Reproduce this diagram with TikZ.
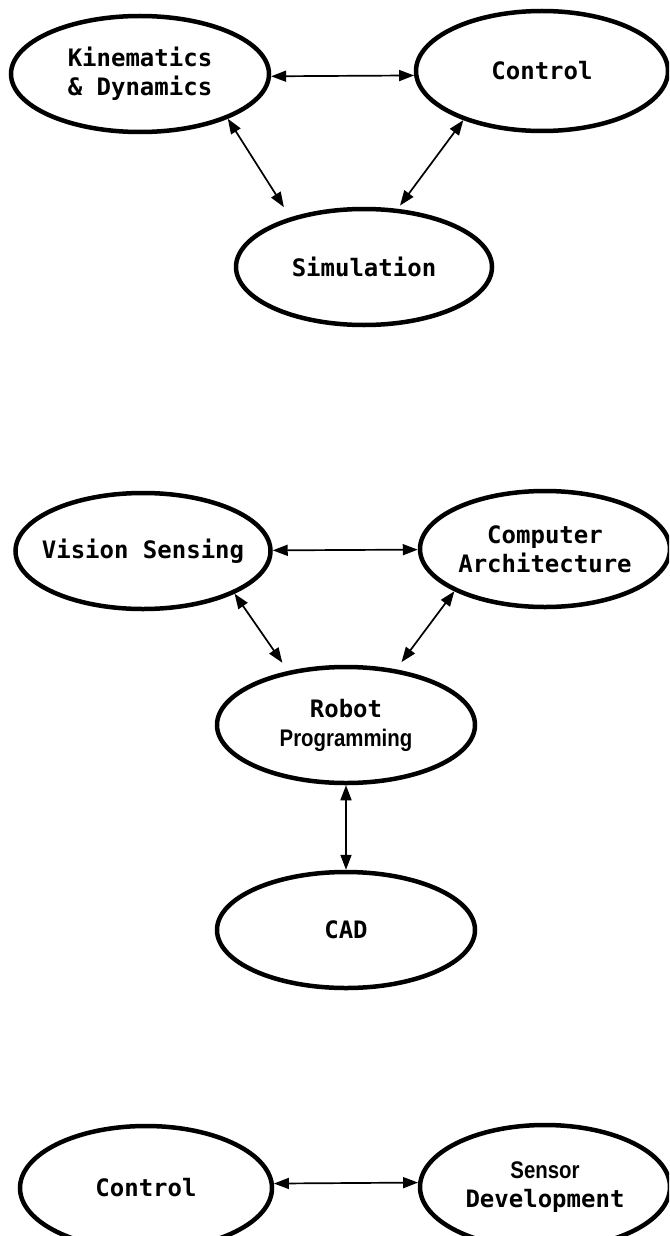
\documentclass[tikz,border=0pt]{standalone}
\usepackage{fontspec}
\usetikzlibrary{shapes.geometric,arrows.meta}
\newfontfamily\monofam{DejaVu Sans Mono}
\newfontfamily\narrowfam{Liberation Sans}[FakeStretch=0.85]
\newcommand{\nrw}[1]{{\narrowfam\bfseries\fontsize{24}{29}\selectfont #1}}
\begin{document}
\begin{tikzpicture}[x=1pt,y=-1pt,
  bub/.style={draw, ellipse, line width=4.5pt, inner sep=0pt,
    minimum width=256pt, minimum height=116pt,
    label={[lab]center:#1}},
  lab/.style={align=center, inner sep=0pt,
    font=\monofam\bfseries\fontsize{24}{29}\selectfont},
  arr/.style={line width=1.7pt, {Triangle[length=15pt,width=11pt]}-{Triangle[length=15pt,width=11pt]}}]
\useasboundingbox (0,0) rectangle (669,1236);
\clip (0,0) rectangle (669,1236);
% top group
\node[bub={Kinematics\\\& Dynamics}, minimum width=258pt] (K) at (140,74) {};
\node[bub={Control}, minimum width=252pt, minimum height=120pt] (C) at (542,71) {};
\node[bub={Simulation}, minimum width=256pt, minimum height=116pt] (S) at (364,267) {};
\draw[arr] (K.-1) -- (C.182);
\draw[arr, shorten >=12pt] (K.-27) -- (S.146);
\draw[arr, shorten >=4pt] (C.-148) -- (S.60);
% middle group
\node[bub={Vision Sensing}, minimum width=255pt] (V) at (143,551) {};
\node[bub={Computer\\Architecture}, minimum width=250pt] (CA) at (545,549) {};
\node[bub={Robot\\\nrw{Programming}}, minimum width=258pt] (RP) at (346,725) {};
\node[bub={CAD}, minimum width=258pt] (CAD) at (346,930) {};
\draw[arr] (V) -- (CA);
\draw[arr, shorten >=10pt] (V.-25) -- (RP.137);
\draw[arr, shorten >=9pt] (CA.-155) -- (RP.48);
\draw[arr] (RP.south) -- (CAD.north);
% bottom group
\node[bub={Control}, minimum width=252pt, minimum height=124pt] (B1) at (146,1188) {};
\node[bub={\nrw{Sensor}\\Development}, minimum width=250pt, minimum height=124pt] (B2) at (545,1187) {};
\draw[arr] (B1.2) -- (B2.178);
\end{tikzpicture}
\end{document}
